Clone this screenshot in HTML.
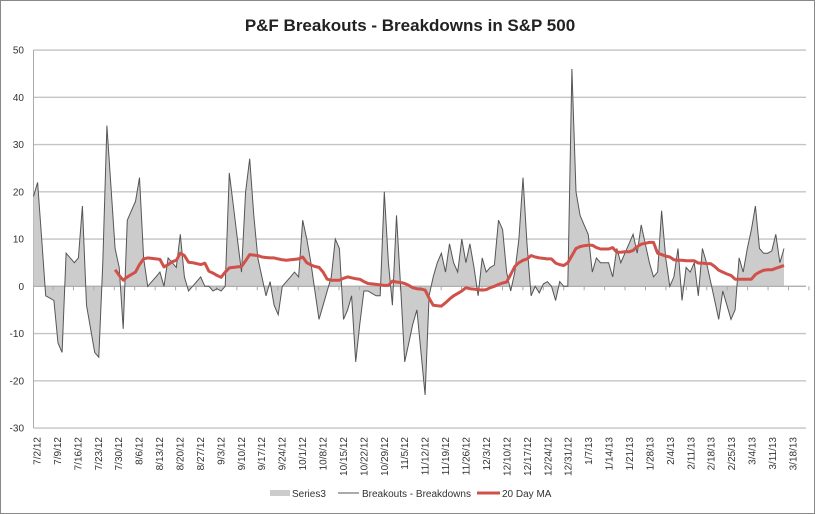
<!DOCTYPE html>
<html><head><meta charset="utf-8"><style>
html,body{margin:0;padding:0;background:#fff}
svg{display:block;font-family:"Liberation Sans",sans-serif}
</style></head><body>
<svg id="chart" width="820" height="514" viewBox="0 0 820 514">
<rect x="0.5" y="0.5" width="814" height="513" fill="#fff" stroke="#888"/>
<text x="410" y="31" text-anchor="middle" font-size="17" font-weight="bold" fill="#222">P&amp;F Breakouts - Breakdowns in S&amp;P 500</text>
<g id="grid"></g>
<g id="yticks"></g>
<g id="series"></g>
<g id="xticks"></g>
<g>
<rect x="270" y="490" width="20" height="6" fill="#ccc"/>
<text x="292" y="497" font-size="10" fill="#333">Series3</text>
<line x1="338" y1="493" x2="359" y2="493" stroke="#555" stroke-width="1"/>
<text x="362" y="497" font-size="10" fill="#333">Breakouts - Breakdowns</text>
<line x1="477" y1="493" x2="500" y2="493" stroke="#d0504a" stroke-width="3"/>
<text x="502" y="497" font-size="10" fill="#333">20 Day MA</text>
</g>
</svg>
<script>
const yTicks=[50,40,30,20,10,0,-10,-20,-30];
const xLabels=["7/2/12","7/9/12","7/16/12","7/23/12","7/30/12","8/6/12","8/13/12","8/20/12","8/27/12","9/3/12","9/10/12","9/17/12","9/24/12","10/1/12","10/8/12","10/15/12","10/22/12","10/29/12","11/5/12","11/12/12","11/19/12","11/26/12","12/3/12","12/10/12","12/17/12","12/24/12","12/31/12","1/7/13","1/14/13","1/21/13","1/28/13","2/4/13","2/11/13","2/18/13","2/25/13","3/4/13","3/11/13","3/18/13"];
const breakouts=[19,22,10,-2,-2.5,-3,-12,-14,7,6,5,6,17,-4,-9,-14,-15,5,34,21,8,4,-9,14,16,18,23,6,0,1,2,3,0,6,5,4,11,2,-1,0,1,2,0,0,-1,-0.5,-1,0,24,17,10,3,20,27,15,6,2,-2,1,-4,-6,0,1,2,3,2,14,10,5,-1,-7,-4,-1,2,10,8,-7,-5,-2,-16,-8,-1,-1,-1.5,-2,-2,20,5,-4,15,0,-16,-12,-8,-5,-14,-23,-2,2,5,7,3,9,5,3,10,5,9,4,-2,6,3,4,4.5,14,12,3,-1,3,10,23,9,-2,0,-1.4,0.5,1,0,-3,1,0,0,46,20,15,13,11,3,6,5,5,5,2,8,5,7,9,11,7,13,9,5,2,3,16,6,0,2,8,-3,4,3,5,-2,8,5,1,-3,-7,-1,-4,-7,-5,6,3,8,12,17,8,7,7,7.5,11,5,8];
const maStart=20;
const movingAvg=[3.5,2.3,1.3,2,2.5,3,4.6,5.8,6,5.9,5.8,5.7,4.1,4.6,5.2,5.5,7,6.5,5.1,5,4.8,4.6,4.9,3.2,2.8,2.3,1.9,3,3.9,4,4.1,4.2,5.4,6.7,6.6,6.5,6.2,6.1,6,6,5.8,5.6,5.5,5.6,5.7,5.8,6.2,5,4.5,4.2,4,3,1.5,1.3,1.3,1.3,1.7,2,1.8,1.6,1.5,1,0.6,0.5,0.4,0.3,0.2,0.2,1.1,0.9,0.8,0.6,0.2,-0.3,-0.5,-0.6,-0.8,-2.5,-4,-4.1,-4.2,-3.5,-2.7,-2,-1.5,-1,-0.3,-0.5,-0.6,-0.7,-0.8,-0.7,-0.3,0,0.4,0.7,0.9,2.5,4.2,5,5.5,5.8,6.5,6.2,6,5.9,5.8,5.8,4.9,4.6,4.4,5,6.5,8,8.4,8.6,8.7,8.7,8.2,7.9,7.9,7.9,8.2,7.2,7.2,7.3,7.3,7.6,8.4,8.9,9.1,9.3,9.3,7,6.7,6.4,6.2,5.6,5.5,5.5,5.4,5.4,5.4,4.9,4.9,4.8,4.8,4.2,3.4,3,2.6,2.3,1.5,1.5,1.5,1.5,1.5,2.5,3,3.4,3.5,3.5,3.8,4.1,4.4];

const NS="http://www.w3.org/2000/svg";
const X0=33.5,X1=784,PR=806;
const yScale=v=>286.3-v*4.725;
const xScale=i=>X0+i*(X1-X0)/(breakouts.length-1);
const labelX=k=>37+k*20.43;
function mk(tag,attrs,parent){const e=document.createElementNS(NS,tag);for(const k in attrs)e.setAttribute(k,attrs[k]);parent.appendChild(e);return e;}
const grid=document.getElementById('grid'),yt=document.getElementById('yticks'),ser=document.getElementById('series'),xt=document.getElementById('xticks');
yTicks.forEach(v=>{
  const l=mk('line',{x1:X0,x2:PR,y1:yScale(v),y2:yScale(v),stroke:'#c4c4c4','stroke-width':1.3},grid);
  
  
  const t=mk('text',{x:24,y:yScale(v)+3.5,'text-anchor':'end','font-size':10,fill:'#333'},yt);
  t.textContent=v;
  
  
});
const ax=mk('line',{x1:X0,x2:X0,y1:yScale(50),y2:yScale(-30),stroke:'#aaa','stroke-width':1},grid);


let d='M'+xScale(0)+','+yScale(0);
breakouts.forEach((v,i)=>{d+=' L'+xScale(i).toFixed(1)+','+yScale(v).toFixed(1);});
d+=' L'+xScale(breakouts.length-1)+','+yScale(0)+' Z';
const area=mk('path',{d:d,fill:'#cccccc',stroke:'none'},ser);


const zl=mk('line',{x1:X0,x2:PR,y1:yScale(0),y2:yScale(0),stroke:'#aaa','stroke-width':1},ser);


xLabels.forEach((s,k)=>{
  const tk=mk('line',{x1:labelX(k)+16,x2:labelX(k)+16,y1:yScale(0),y2:yScale(0)+4,stroke:'#aaa'},ser);
  
  
  const x=labelX(k)+3.5;
  const t=mk('text',{x:x,y:437,'text-anchor':'end','font-size':10,fill:'#333',transform:'rotate(-90 '+x+' 437)'},xt);
  t.textContent=s;
  
  
});
const line=mk('polyline',{points:breakouts.map((v,i)=>xScale(i).toFixed(1)+','+yScale(v).toFixed(1)).join(' '),fill:'none',stroke:'#555','stroke-width':1},ser);


const ma=mk('polyline',{points:movingAvg.map((v,i)=>xScale(i+maStart).toFixed(1)+','+yScale(v).toFixed(1)).join(' '),fill:'none',stroke:'#d0504a','stroke-width':3,'stroke-linejoin':'round'},ser);


</script>
</body></html>
